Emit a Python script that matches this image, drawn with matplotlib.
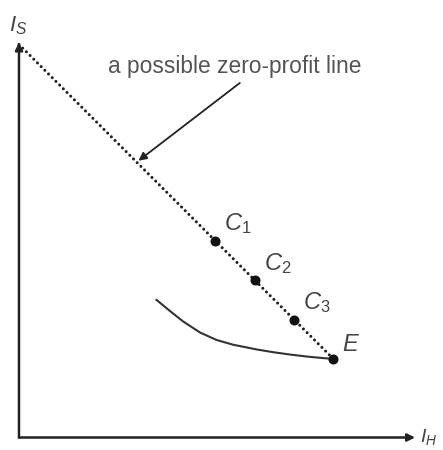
import matplotlib
matplotlib.use("Agg")
import matplotlib.pyplot as plt

plt.rcParams['font.family'] = ['Liberation Sans', 'DejaVu Sans']
plt.rcParams['mathtext.fontset'] = 'custom'
plt.rcParams['mathtext.rm'] = 'Liberation Sans'
plt.rcParams['mathtext.it'] = 'Liberation Sans:italic'

# zero-profit line and the points on it
line_x = [0.0, 8.0]
line_y = [10.0, 2.0]
point_labels = ["$C_1$", "$C_2$", "$C_3$", "$E$"]
point_x = [5.0, 6.0, 7.0, 8.0]
point_y = [5.0, 4.0, 3.0, 2.0]

# indifference curve ending in E
curve_x = [3.50, 3.84, 4.18, 4.61, 5.03, 5.45, 6.05, 6.47, 6.90, 7.32, 7.74, 8.0]
curve_y = [3.50, 3.22, 2.95, 2.67, 2.48, 2.36, 2.24, 2.17, 2.11, 2.06, 2.02, 2.0]

ink = '#222222'

fig = plt.figure(figsize=(4.43, 4.5), dpi=100)
ax = fig.add_axes([0, 0, 1, 1])
ax.set_xlim(-0.483, 10.79)
ax.set_ylim(-0.318, 11.13)
ax.axis('off')

# axes with arrows
ax.annotate('', xy=(10.08, 0), xytext=(0, 0),
            arrowprops=dict(arrowstyle='-|>', lw=1.8, color=ink,
                            mutation_scale=11, shrinkA=0, shrinkB=0))
ax.annotate('', xy=(0, 10.05), xytext=(0, 0),
            arrowprops=dict(arrowstyle='-|>', lw=1.8, color=ink,
                            mutation_scale=11, shrinkA=0, shrinkB=0))
ax.text(-0.25, 10.34, "$I_S$", fontsize=16, color='#444444', va='baseline', ha='left')
ax.text(10.2, -0.115, "$I_H$", fontsize=14, color='#444444', va='baseline', ha='left')

ax.plot(line_x, line_y, color=ink, lw=2.2, linestyle=(0, (0.01, 1.7)),
        dash_capstyle='round')
ax.plot(curve_x, curve_y, color='#333333', lw=1.5, solid_joinstyle='round')
ax.plot(point_x, point_y, 'o', color='#111111', ms=6.2, ls='none')

for lab, px, py in zip(point_labels, point_x, point_y):
    dy = 5.4 if lab == "$E$" else 7.6
    ax.annotate(lab, (px, py), xytext=(6.5, dy), textcoords='offset points',
                fontsize=17, color='#444444', ha='left', va='baseline')

ax.text(2.27, 9.28, "a possible zero-profit line", fontsize=16.4,
        color='#555555', ha='left', va='baseline')
ax.annotate('', xy=(3.04, 7.04), xytext=(5.62, 9.02),
            arrowprops=dict(arrowstyle='-|>', lw=1.3, color=ink,
                            mutation_scale=12, shrinkA=0, shrinkB=0))

fig.savefig("out.png", dpi=100)
